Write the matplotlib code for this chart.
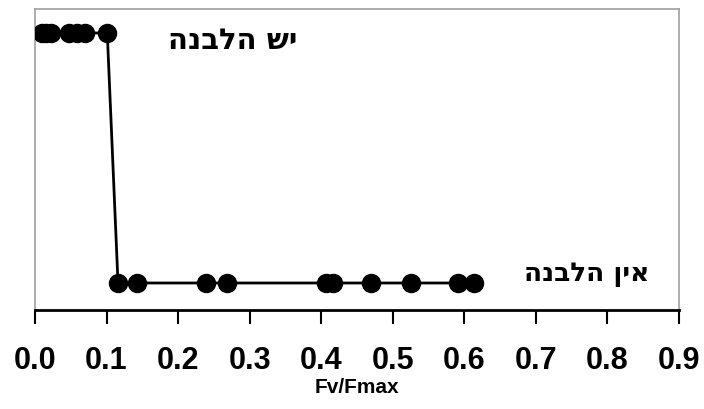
import matplotlib
matplotlib.use("Agg")
import matplotlib.pyplot as plt

plt.rcParams['font.family'] = ['Liberation Sans', 'DejaVu Sans']

# Data (Fv/Fmax value, bleaching state: 1 = yes, 0 = no)
fv_fmax = [0.010, 0.016, 0.023, 0.048, 0.058, 0.070, 0.101,
           0.116, 0.143, 0.239, 0.269, 0.407, 0.417, 0.470, 0.526, 0.591, 0.614]
bleaching = [1, 1, 1, 1, 1, 1, 1,
             0, 0, 0, 0, 0, 0, 0, 0, 0, 0]
x_ticks = [0.0, 0.1, 0.2, 0.3, 0.4, 0.5, 0.6, 0.7, 0.8, 0.9]
x_tick_labels = ["0.0", "0.1", "0.2", "0.3", "0.4", "0.5", "0.6", "0.7", "0.8", "0.9"]
label_yes = "יש הלבנה"
label_no = "אין הלבנה"
x_label = "Fv/Fmax"

def visual(s):
    # matplotlib lays text left-to-right; reverse for RTL Hebrew
    return s[::-1]

fig = plt.figure(figsize=(7.04, 4.10), dpi=100)
ax = fig.add_axes([35/704, 1 - 311/410, 644/704, 301/410])

ax.plot(fv_fmax, bleaching, color='black', lw=2, marker='o', ms=13,
        markerfacecolor='black', markeredgecolor='black', zorder=3)

ax.set_xlim(0, 0.9)
ax.set_ylim(-0.108, 1.096)
ax.set_xticks(x_ticks)
ax.set_xticklabels(x_tick_labels, fontsize=22, fontweight='bold')
ax.set_yticks([])
ax.set_xlabel(x_label, fontsize=15, fontweight='bold', labelpad=2)

for side in ['left', 'top', 'right']:
    ax.spines[side].set_color('#a0a0a0')
    ax.spines[side].set_linewidth(1.2)
ax.spines['bottom'].set_color('black')
ax.spines['bottom'].set_linewidth(2)
ax.tick_params(axis='x', direction='out', length=10, width=1.5, pad=15, colors='black')

heb_font = ['DejaVu Sans']
ax.text(0.367, 0.972, visual(label_yes), ha='right', va='center',
        fontsize=21, fontweight='bold', family=heb_font)
ax.text(0.858, 0.04, visual(label_no), ha='right', va='center',
        fontsize=19, fontweight='bold', family=heb_font)

fig.savefig("out.png", dpi=100)
